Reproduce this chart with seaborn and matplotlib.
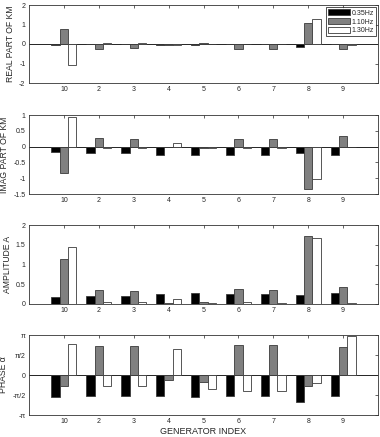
import numpy as np
import pandas as pd
import matplotlib
matplotlib.use("Agg")
import matplotlib.pyplot as plt
import seaborn as sns

generators = ["10", "2", "3", "4", "5", "6", "7", "8", "9"]
modes = ["0.35Hz", "1.10Hz", "1.30Hz"]

real_035 = [-0.03, -0.02, -0.02, -0.03, -0.05, -0.02, -0.02, -0.15, -0.02]
real_110 = [0.75, -0.25, -0.22, -0.05, 0.05, -0.27, -0.25, 1.07, -0.25]
real_130 = [-1.10, 0.05, 0.05, -0.05, 0.02, -0.02, -0.02, 1.30, -0.03]

imag_035 = [-0.18, -0.20, -0.20, -0.25, -0.28, -0.25, -0.25, -0.20, -0.27]
imag_110 = [-0.85, 0.28, 0.25, -0.02, -0.05, 0.25, 0.25, -1.33, 0.35]
imag_130 = [0.95, -0.05, -0.05, 0.10, -0.05, -0.05, -0.03, -1.04, 0.00]

amp_035 = [0.18, 0.20, 0.21, 0.25, 0.29, 0.25, 0.25, 0.24, 0.27]
amp_110 = [1.14, 0.36, 0.33, 0.02, 0.06, 0.38, 0.35, 1.72, 0.44]
amp_130 = [1.44, 0.05, 0.05, 0.12, 0.03, 0.05, 0.03, 1.68, 0.03]

# phase in units of pi
phase_035 = [-0.55, -0.525, -0.525, -0.525, -0.54, -0.525, -0.525, -0.67, -0.52]
phase_110 = [-0.27, 0.72, 0.73, -0.12, -0.175, 0.76, 0.76, -0.27, 0.71]
phase_130 = [0.78, -0.275, -0.275, 0.66, -0.35, -0.39, -0.39, -0.20, 0.98]

panels = [
    ("REAL PART OF KM", [real_035, real_110, real_130], (-2, 2), [-2, -1, 0, 1, 2], ["-2", "-1", "0", "1", "2"]),
    ("IMAG PART OF KM", [imag_035, imag_110, imag_130], (-1.5, 1), [-1.5, -1, -0.5, 0, 0.5, 1],
     ["-1.5", "-1", "-0.5", "0", "0.5", "1"]),
    ("AMPLITUDE A", [amp_035, amp_110, amp_130], (0, 2), [0, 0.5, 1, 1.5, 2], ["0", "0.5", "1", "1.5", "2"]),
    ("PHASE \u03b1", [phase_035, phase_110, phase_130], (-1, 1), [-1, -0.5, 0, 0.5, 1],
     ["-\u03c0", "-\u03c0/2", "0", "\u03c0/2", "\u03c0"]),
]

sns.set_style("white")
plt.rcParams["font.family"] = ["Liberation Sans", "DejaVu Sans"]

W, H = 380, 437
fig = plt.figure(figsize=(W / 100, H / 100), dpi=100)

boxes = [(5, 83), (115, 194), (225, 304), (335, 415)]
left_px, right_px = 29, 378
palette = ["#000000", "#808080", "#ffffff"]

for i, ((ylab, series, ylim, yt, ytl), (top, bot)) in enumerate(zip(panels, boxes)):
    ax = fig.add_axes([left_px / W, 1 - bot / H, (right_px - left_px) / W, (bot - top) / H])
    rows = []
    for m, vals in zip(modes, series):
        for g, v in zip(generators, vals):
            rows.append({"gen": g, "mode": m, "val": v})
    df = pd.DataFrame(rows)
    sns.barplot(data=df, x="gen", y="val", hue="mode", order=generators, hue_order=modes,
                palette=palette, saturation=1, width=0.72, ax=ax,
                edgecolor="#3a3a3a", linewidth=0.6, errorbar=None)
    ax.axhline(0, color="black", lw=0.6, zorder=0.5)
    ax.set_xlim(-1, 9)
    ax.set_ylim(*ylim)
    ax.set_yticks(yt)
    ax.set_yticklabels(ytl)
    ax.set_ylabel(ylab, fontsize=6.2, labelpad=3)
    ax.set_xlabel("GENERATOR INDEX" if i == 3 else "", fontsize=6.5, labelpad=1)
    ax.tick_params(axis="both", direction="in", length=2.5, width=0.5, labelsize=5,
                   top=True, right=True, pad=2.5)
    for s in ax.spines.values():
        s.set_linewidth(0.6)
        s.set_color("#333333")
    if i == 0:
        leg = ax.legend(loc="upper right", fontsize=5, frameon=True, fancybox=False,
                        handlelength=3.2, handleheight=1.0, borderpad=0.25,
                        labelspacing=0.2, handletextpad=0.2, borderaxespad=0.35)
        leg.get_frame().set_edgecolor("black")
        leg.get_frame().set_linewidth(0.6)
    else:
        lg = ax.get_legend()
        if lg is not None:
            lg.remove()

fig.savefig("out.png", dpi=100)
